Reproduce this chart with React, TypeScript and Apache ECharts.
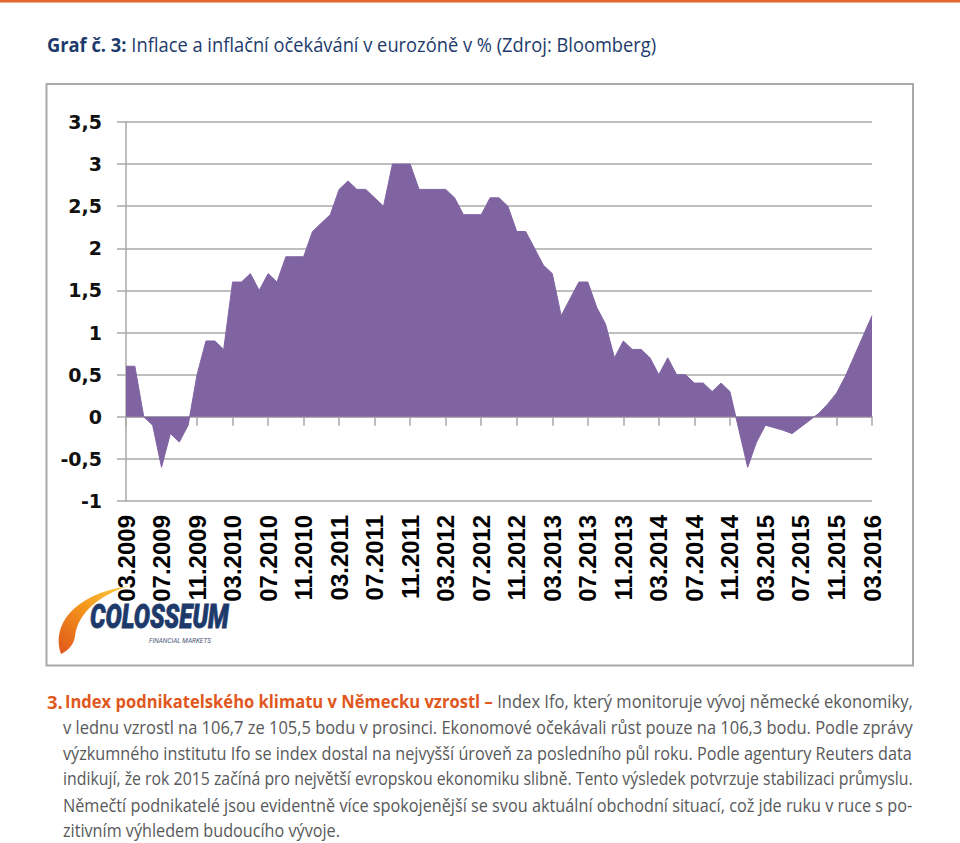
import React, { useEffect, useRef } from 'react';
import * as echarts from 'echarts';

// ---------- data ----------
const firstYear = 2009;
const firstMonth = 3;
const lastYear = 2016;
const lastMonth = 3;
const categories: string[] = (() => {
  const out: string[] = [];
  for (let y = firstYear; y <= lastYear; y++) {
    for (let m = 1; m <= 12; m++) {
      if (y === firstYear && m < firstMonth) continue;
      if (y === lastYear && m > lastMonth) continue;
      out.push(`${String(m).padStart(2, '0')}.${y}`);
    }
  }
  return out;
})();

const inflation2009 = [0.6, 0.6, 0.0, -0.1, -0.6, -0.2, -0.3, -0.1, 0.5, 0.9]; // 03-12
const inflation2010 = [0.9, 0.8, 1.6, 1.6, 1.7, 1.5, 1.7, 1.6, 1.9, 1.9, 1.9, 2.2];
const inflation2011 = [2.3, 2.4, 2.7, 2.8, 2.7, 2.7, 2.6, 2.5, 3.0, 3.0, 3.0, 2.7];
const inflation2012 = [2.7, 2.7, 2.7, 2.6, 2.4, 2.4, 2.4, 2.6, 2.6, 2.5, 2.2, 2.2];
const inflation2013 = [2.0, 1.8, 1.7, 1.2, 1.4, 1.6, 1.6, 1.3, 1.1, 0.7, 0.9, 0.8];
const inflation2014 = [0.8, 0.7, 0.5, 0.7, 0.5, 0.5, 0.4, 0.4, 0.3, 0.4, 0.3, -0.15];
const inflation2015 = [-0.6, -0.3, -0.1, -0.13, -0.16, -0.2, -0.12, -0.04, 0.04, 0.15, 0.28, 0.48];
const inflation2016 = [0.72, 0.96, 1.2]; // 01-03
const inflation = [
  ...inflation2009, ...inflation2010, ...inflation2011, ...inflation2012,
  ...inflation2013, ...inflation2014, ...inflation2015, ...inflation2016,
];

const yMin = -1;
const yMax = 3.5;
const yInterval = 0.5;

const titleBold = 'Graf č. 3:';
const titleRest = ' Inflace a inflační očekávání v eurozóně v % (Zdroj: Bloomberg)';

const paraNumber = '3.';
const paraLead = 'Index podnikatelského klimatu v Německu vzrostl –';
const paraLeadRest = 'Index Ifo, který monitoruje vývoj německé ekonomiky,';
const paraLines = [
  'v lednu vzrostl na 106,7 ze 105,5 bodu v prosinci. Ekonomové očekávali růst pouze na 106,3 bodu. Podle zprávy',
  'výzkumného institutu Ifo se index dostal na nejvyšší úroveň za posledního půl roku. Podle agentury Reuters data',
  'indikují, že rok 2015 začíná pro největší evropskou ekonomiku slibně. Tento výsledek potvrzuje stabilizaci průmyslu.',
  'Němečtí podnikatelé jsou evidentně více spokojenější se svou aktuální obchodní situací, což jde ruku v ruce s po-',
];
const paraLast = 'zitivním výhledem budoucího vývoje.';

const logoName = 'COLOSSEUM';
const logoSub = 'FINANCIAL MARKETS';

// ---------- styles ----------
const NAVY = '#1d3a6b';
const ORANGE = '#e0581d';
const GREY_TEXT = '#58595b';
const AREA = '#8064a2';
const GRID = '#a8a8a8';

let swooshRegistered = false;
function registerSwoosh() {
  if (swooshRegistered) return;
  const d = 'M4,68 C-6,40 16,8 72,0 C42,9 21,27 18,50 C17,58 12,64 4,68 Z';
  echarts.graphic.registerShape('swoosh', echarts.graphic.extendPath(d, {}) as any);
  swooshRegistered = true;
}

export default function App() {
  const ref = useRef<HTMLDivElement>(null);

  useEffect(() => {
    if (!ref.current) return;
    registerSwoosh();
    const chart = echarts.init(ref.current, undefined, { renderer: 'svg' });

    const cvs = document.createElement('canvas');
    const ctx = cvs.getContext('2d')!;
    const measure = (t: string, font: string) => {
      ctx.font = font;
      return ctx.measureText(t).width;
    };

    // title
    const tFam = '"Open Sans"';
    const tSize = 20;
    const titleW =
      measure(titleBold, `bold ${tSize}px ${tFam}`) + measure(titleRest, `${tSize}px ${tFam}`);
    const titleScale = (657 - 47) / titleW;

    // paragraph
    const pFam = '"Open Sans"';
    const pSize = 18.5;
    const pNorm = `${pSize}px ${pFam}`;
    const pBold = `bold ${pSize}px ${pFam}`;
    const textLeft = 63;
    const textRight = 913;
    const target = textRight - textLeft;
    const lineH = 25.8;
    const line0Y = 701;

    const graphics: any[] = [];
    graphics.push({
      type: 'rect',
      shape: { x: 0, y: 0, width: 960, height: 2.5 },
      style: { fill: '#e2672c' },
    });
    graphics.push({
      type: 'rect',
      shape: { x: 46.5, y: 84, width: 866.5, height: 581.5 },
      style: { fill: 'none', stroke: '#a9a9a9', lineWidth: 2 },
      silent: true,
    });
    graphics.push({
      type: 'text',
      x: 47,
      y: 45,
      scaleX: titleScale,
      style: {
        text: `{b|${titleBold}}{n|${titleRest}}`,
        verticalAlign: 'middle',
        align: 'left',
        fontSize: tSize,
        fontFamily: tFam,
        rich: {
          b: { fontWeight: 'bold', fontSize: tSize, fontFamily: tFam, fill: NAVY, color: NAVY },
          n: { fontWeight: 'normal', fontSize: tSize, fontFamily: tFam, fill: NAVY, color: NAVY },
        },
      },
    });

    // paragraph number
    graphics.push({
      type: 'text',
      x: 47,
      y: line0Y,
      style: {
        text: paraNumber,
        fill: ORANGE,
        fontSize: pSize,
        fontFamily: pFam,
        fontWeight: 'bold',
        verticalAlign: 'middle',
      },
    });
    const w0 = measure(paraLead, pBold) + measure(' ', pNorm) + measure(paraLeadRest, pNorm);
    graphics.push({
      type: 'text',
      x: textLeft + 2,
      y: line0Y,
      scaleX: (target - 2) / w0,
      style: {
        text: `{o|${paraLead}}{g| ${paraLeadRest}}`,
        verticalAlign: 'middle',
        fontSize: pSize,
        fontFamily: pFam,
        rich: {
          o: { fontWeight: 'bold', fontSize: pSize, fontFamily: pFam, fill: ORANGE, color: ORANGE },
          g: { fontWeight: 'normal', fontSize: pSize, fontFamily: pFam, fill: GREY_TEXT, color: GREY_TEXT },
        },
      },
    });
    const scales: number[] = [];
    paraLines.forEach((ln, i) => {
      const s = target / measure(ln, pNorm);
      scales.push(s);
      graphics.push({
        type: 'text',
        x: textLeft,
        y: line0Y + lineH * (i + 1),
        scaleX: s,
        style: {
          text: ln,
          fill: GREY_TEXT,
          fontSize: pSize,
          fontFamily: pFam,
          verticalAlign: 'middle',
        },
      });
    });
    const avgScale = scales.reduce((a, b) => a + b, 0) / scales.length;
    graphics.push({
      type: 'text',
      x: textLeft,
      y: line0Y + lineH * (paraLines.length + 1),
      scaleX: avgScale,
      style: {
        text: paraLast,
        fill: GREY_TEXT,
        fontSize: pSize,
        fontFamily: pFam,
        verticalAlign: 'middle',
      },
    });

    // logo
    const logoFont = 'italic bold 34px Roboto';
    const logoW = measure(logoName, logoFont);
    graphics.push({
      type: 'swoosh',
      x: 57,
      y: 586,
      z: 5,
      style: {
        fill: {
          type: 'linear',
          x: 1, y: 0, x2: 0, y2: 1,
          colorStops: [
            { offset: 0, color: '#fbd04a' },
            { offset: 0.45, color: '#f59a1b' },
            { offset: 1, color: '#e0561c' },
          ],
        },
      },
    });
    graphics.push({
      type: 'text',
      x: 90,
      y: 616,
      z: 6,
      scaleX: 138 / logoW,
      style: {
        text: logoName,
        fill: NAVY,
        fontSize: 34,
        fontFamily: 'Roboto',
        fontWeight: 900,
        fontStyle: 'italic',
        verticalAlign: 'middle',
        stroke: NAVY,
        lineWidth: 0.8,
      },
    });
    graphics.push({
      type: 'text',
      x: 149,
      y: 641,
      z: 6,
      style: {
        text: logoSub,
        fill: '#4a5677',
        fontSize: 6.5,
        fontFamily: 'Roboto',
        fontStyle: 'italic',
        verticalAlign: 'middle',
      },
    });

    chart.setOption({
      animation: false,
      backgroundColor: '#ffffff',
      grid: { left: 126, right: 88, top: 122, bottom: 342, containLabel: false },
      xAxis: [
        {
          type: 'category',
          data: categories,
          boundaryGap: false,
          position: 'bottom',
          axisLine: { show: false, onZero: false },
          axisTick: { show: false },
          splitLine: { show: false },
          axisLabel: {
            interval: 3,
            rotate: 90,
            margin: 14,
            fontSize: 24,
            fontWeight: 'bold',
            fontFamily: '"Liberation Sans", Arial, sans-serif',
            color: '#000',
          },
        },
        {
          type: 'category',
          data: categories,
          boundaryGap: false,
          position: 'bottom',
          axisLine: { show: true, onZero: true, lineStyle: { color: GRID, width: 1.5 } },
          axisTick: { show: true, interval: 3, length: 9, lineStyle: { color: GRID, width: 1.5 } },
          axisLabel: { show: false },
          splitLine: { show: false },
        },
      ],
      yAxis: {
        type: 'value',
        min: yMin,
        max: yMax,
        interval: yInterval,
        axisLine: { show: true, lineStyle: { color: GRID, width: 1.5 } },
        axisTick: { show: true, length: 9, lineStyle: { color: GRID, width: 1.5 } },
        splitLine: { show: true, lineStyle: { color: GRID, width: 1.5 } },
        axisLabel: {
          margin: 24,
          fontSize: 19,
          fontWeight: 'bold',
          fontFamily: '"DejaVu Sans", sans-serif',
          color: '#111',
          formatter: (v: number) => String(v).replace('.', ','),
        },
      },
      series: [
        {
          type: 'line',
          data: inflation,
          xAxisIndex: 0,
          yAxisIndex: 0,
          symbol: 'none',
          showSymbol: false,
          lineStyle: { color: AREA, width: 1 },
          areaStyle: { color: AREA, opacity: 1 },
        },
      ],
      graphic: graphics,
    });

    return () => {
      chart.dispose();
    };
  }, []);

  return (
    <div
      ref={ref}
      style={{ position: 'absolute', left: 0, top: 0, width: 960, height: 843 }}
    />
  );
}
